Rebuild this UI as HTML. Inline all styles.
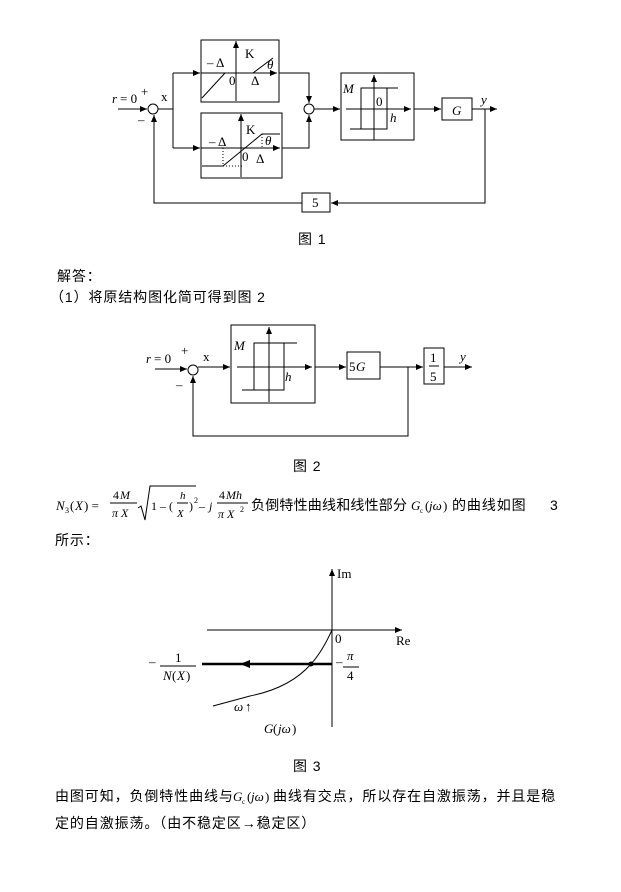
<!DOCTYPE html>
<html><head><meta charset="utf-8"><style>
html,body{margin:0;padding:0;background:#fff;}
svg{display:block;}
.cn{font-family:"Liberation Sans","Noto Sans CJK SC",sans-serif;font-size:14px;fill:#000;letter-spacing:0.9px;}
.s{font-family:"Liberation Serif",serif;font-size:13px;fill:#000;}
.i{font-family:"Liberation Serif",serif;font-style:italic;font-size:13px;fill:#000;}
</style></head><body>
<svg width="621" height="892" viewBox="0 0 621 892" xmlns="http://www.w3.org/2000/svg">
<defs>
<marker id="a" markerWidth="8" markerHeight="8" refX="7" refY="4" orient="auto" markerUnits="userSpaceOnUse"><path d="M0,1 L7,4 L0,7 z" fill="#000"/></marker>
</defs>
<g stroke="#000" stroke-width="1" fill="none">
<line x1="118" y1="109" x2="147" y2="109" marker-end="url(#a)"/>
<circle cx="153" cy="109" r="5"/>
<line x1="158" y1="109" x2="173" y2="109"/>
<line x1="173" y1="73" x2="173" y2="148"/>
<line x1="173" y1="73" x2="200" y2="73" marker-end="url(#a)"/>
<line x1="173" y1="148" x2="200" y2="148" marker-end="url(#a)"/>
<rect x="201" y="40" width="78" height="62"/>
<line x1="201" y1="73" x2="277" y2="73" marker-end="url(#a)"/>
<line x1="236" y1="101" x2="236" y2="41" marker-end="url(#a)"/>
<line x1="202" y1="98" x2="225" y2="73"/>
<line x1="253" y1="73" x2="273" y2="58"/>
<rect x="201" y="113" width="81" height="65"/>
<line x1="201" y1="148" x2="280" y2="148" marker-end="url(#a)"/>
<line x1="241" y1="177" x2="241" y2="114" marker-end="url(#a)"/>
<polyline points="202,166 223,166 262,134 280,134"/>
<g stroke-dasharray="1,2"><line x1="223" y1="148" x2="223" y2="166"/><line x1="223" y1="166" x2="243" y2="166"/><line x1="262" y1="134" x2="262" y2="148"/></g>
<polyline points="279,73 309,73 309,103" marker-end="url(#a)"/>
<polyline points="282,148 309,148 309,115" marker-end="url(#a)"/>
<circle cx="309" cy="109" r="5"/>
<line x1="314" y1="109" x2="340" y2="109" marker-end="url(#a)"/>
<rect x="341" y="73" width="73" height="67"/>
<line x1="346" y1="109" x2="411" y2="109" marker-end="url(#a)"/>
<line x1="374" y1="140" x2="374" y2="75" marker-end="url(#a)"/>
<polyline points="398,88 361,88 361,129"/>
<polyline points="350,129 387,129 387,88"/>
<line x1="414" y1="109" x2="441" y2="109" marker-end="url(#a)"/>
<rect x="442" y="98" width="30" height="22"/>
<line x1="472" y1="109" x2="497" y2="109" marker-end="url(#a)"/>
<polyline points="485,109 485,203 331,203" marker-end="url(#a)"/>
<rect x="302" y="193" width="28" height="19"/>
<polyline points="302,203 154,203 154,115" marker-end="url(#a)"/>
<line x1="155" y1="369" x2="187" y2="369" marker-end="url(#a)"/>
<circle cx="193" cy="370" r="5"/>
<line x1="198" y1="367" x2="230" y2="367" marker-end="url(#a)"/>
<rect x="231" y="325" width="84" height="78"/>
<line x1="237" y1="367" x2="312" y2="367" marker-end="url(#a)"/>
<line x1="269" y1="402" x2="269" y2="327" marker-end="url(#a)"/>
<polyline points="297,343 254,343 254,390"/>
<polyline points="242,390 284,390 284,343"/>
<line x1="315" y1="367" x2="346" y2="367" marker-end="url(#a)"/>
<rect x="347" y="352" width="33" height="27"/>
<line x1="380" y1="367" x2="423" y2="367" marker-end="url(#a)"/>
<rect x="424" y="348" width="20" height="36"/>
<line x1="444" y1="367" x2="472" y2="367" marker-end="url(#a)"/>
<polyline points="408,367 408,436 193,436 193,376" marker-end="url(#a)"/>
<line x1="429" y1="366" x2="439" y2="366"/>
<line x1="332" y1="727" x2="332" y2="569" marker-end="url(#a)"/>
<line x1="207" y1="630" x2="402" y2="630" marker-end="url(#a)"/>
<line x1="202" y1="664" x2="332" y2="664" stroke-width="2.5"/>
<path d="M332,630 Q322,652 311,664 Q290,688 250,696 Q228,702 213,706"/>
<line x1="160" y1="666" x2="196" y2="666"/>
<line x1="343" y1="667" x2="359" y2="667"/>
</g>
<path d="M240,664 L250,660 L250,668 z" fill="#000"/>
<circle cx="311" cy="664" r="2.5" fill="#000"/>
<text class="i" x="112" y="103">r</text><text class="s" x="120" y="103">= 0</text>
<text class="s" x="141" y="96">+</text>
<text class="s" x="138" y="124">–</text>
<text class="s" x="161" y="101">x</text>
<text class="s" x="207" y="67">– Δ</text>
<text class="s" x="245" y="58">K</text>
<text class="s" x="229" y="85">0</text>
<text class="s" x="251" y="85">Δ</text>
<text class="i" x="267" y="69">θ</text>
<text class="s" x="209" y="146">– Δ</text>
<text class="s" x="246" y="134">K</text>
<text class="i" x="265" y="145">θ</text>
<text class="s" x="242" y="161">0</text>
<text class="s" x="256" y="163">Δ</text>
<text class="i" x="343" y="93">M</text>
<text class="s" x="376" y="106">0</text>
<text class="i" x="390" y="122">h</text>
<text class="i" x="452" y="115">G</text>
<text class="i" x="481" y="104">y</text>
<text class="s" x="312" y="207">5</text>
<text class="cn" x="298" y="244">图 1</text>
<text class="cn" x="57" y="281">解答：</text>
<text class="cn" x="50" y="302">（1）将原结构图化简可得到图 2</text>
<text class="i" x="146" y="363">r</text><text class="s" x="154" y="363">= 0</text>
<text class="s" x="181" y="355">+</text>
<text class="s" x="176" y="389">–</text>
<text class="s" x="203" y="361">x</text>
<text class="i" x="234" y="350">M</text>
<text class="i" x="285" y="381">h</text>
<text class="s" x="349" y="371">5</text><text class="i" x="356" y="371">G</text>
<text class="s" x="430" y="362">1</text>
<text class="s" x="430" y="381">5</text>
<text class="i" x="460" y="361">y</text>
<text class="cn" x="293" y="471">图 2</text>
<text class="i" x="56" y="510" style="font-size:13px">N</text><text class="s" x="65" y="513" style="font-size:8px">3</text><text class="s" x="70" y="510" style="font-size:13px">(</text><text class="i" x="75" y="510" style="font-size:13px">X</text><text class="s" x="84" y="510" style="font-size:13px">) =</text>
<text class="s" x="113" y="499" style="font-size:12px">4</text><text class="i" x="120" y="499" style="font-size:12px">M</text>
<line x1="110" y1="503" x2="137" y2="503" stroke="#000"/>
<text class="i" x="112" y="517" style="font-size:12px">π X</text>
<path d="M138,508 L141,506 L145,520 L150,486 L196,486" stroke="#000" fill="none"/>
<text class="s" x="151" y="510" style="font-size:12px">1 – (</text>
<text class="i" x="180" y="499" style="font-size:11px">h</text>
<line x1="177" y1="503" x2="188" y2="503" stroke="#000"/>
<text class="i" x="177" y="517" style="font-size:11px">X</text>
<text class="s" x="189" y="510" style="font-size:12px">)</text><text class="s" x="194" y="503" style="font-size:8px">2</text>
<text class="s" x="199" y="510" style="font-size:12px">–</text><text class="i" x="209" y="510" style="font-size:12px">j</text>
<text class="s" x="219" y="499" style="font-size:12px">4</text><text class="i" x="226" y="499" style="font-size:12px">Mh</text>
<line x1="217" y1="503" x2="248" y2="503" stroke="#000"/>
<text class="i" x="218" y="518" style="font-size:12px">π X</text><text class="s" x="240" y="512" style="font-size:8px">2</text>
<text class="cn" x="251" y="510" style="letter-spacing:0.2px">负倒特性曲线和线性部分</text>
<text class="i" x="411" y="510" style="font-size:13px">G</text><text class="s" x="420" y="513" style="font-size:7px">c</text><text class="s" x="425" y="510" style="font-size:13px">(</text><text class="i" x="429" y="510" style="font-size:13px">jω</text><text class="s" x="443" y="510" style="font-size:13px">)</text>
<text class="cn" x="452" y="510">的曲线如图</text><text class="cn" x="550" y="510">3</text>
<text class="cn" x="55" y="545">所示：</text>
<text class="s" x="337" y="578">Im</text>
<text class="s" x="335" y="643">0</text>
<text class="s" x="396" y="645">Re</text>
<text class="s" x="149" y="666">–</text>
<text class="s" x="175" y="662">1</text>
<text class="i" x="163" y="680">N</text><text class="s" x="172" y="680">(</text><text class="i" x="177" y="680">X</text><text class="s" x="186" y="680">)</text>
<text class="s" x="336" y="666">–</text>
<text class="i" x="347" y="660">π</text>
<text class="s" x="347" y="680">4</text>
<text class="i" x="234" y="711">ω</text><text class="s" x="245" y="711">↑</text>
<text class="i" x="264" y="733">G</text><text class="s" x="273" y="733">(</text><text class="i" x="278" y="733">jω</text><text class="s" x="292" y="733">)</text>
<text class="cn" x="293" y="771">图 3</text>
<text class="cn" x="55" y="801">由图可知，负倒特性曲线与</text>
<text class="i" x="233" y="801" style="font-size:13px">G</text><text class="s" x="242" y="804" style="font-size:7px">c</text><text class="s" x="247" y="801" style="font-size:13px">(</text><text class="i" x="251" y="801" style="font-size:13px">jω</text><text class="s" x="265" y="801" style="font-size:13px">)</text>
<text class="cn" x="273" y="801">曲线有交点，所以存在自激振荡，并且是稳</text>
<text class="cn" x="55" y="828">定的自激振荡。（由不稳定区→稳定区）</text>
</svg>
</body></html>
